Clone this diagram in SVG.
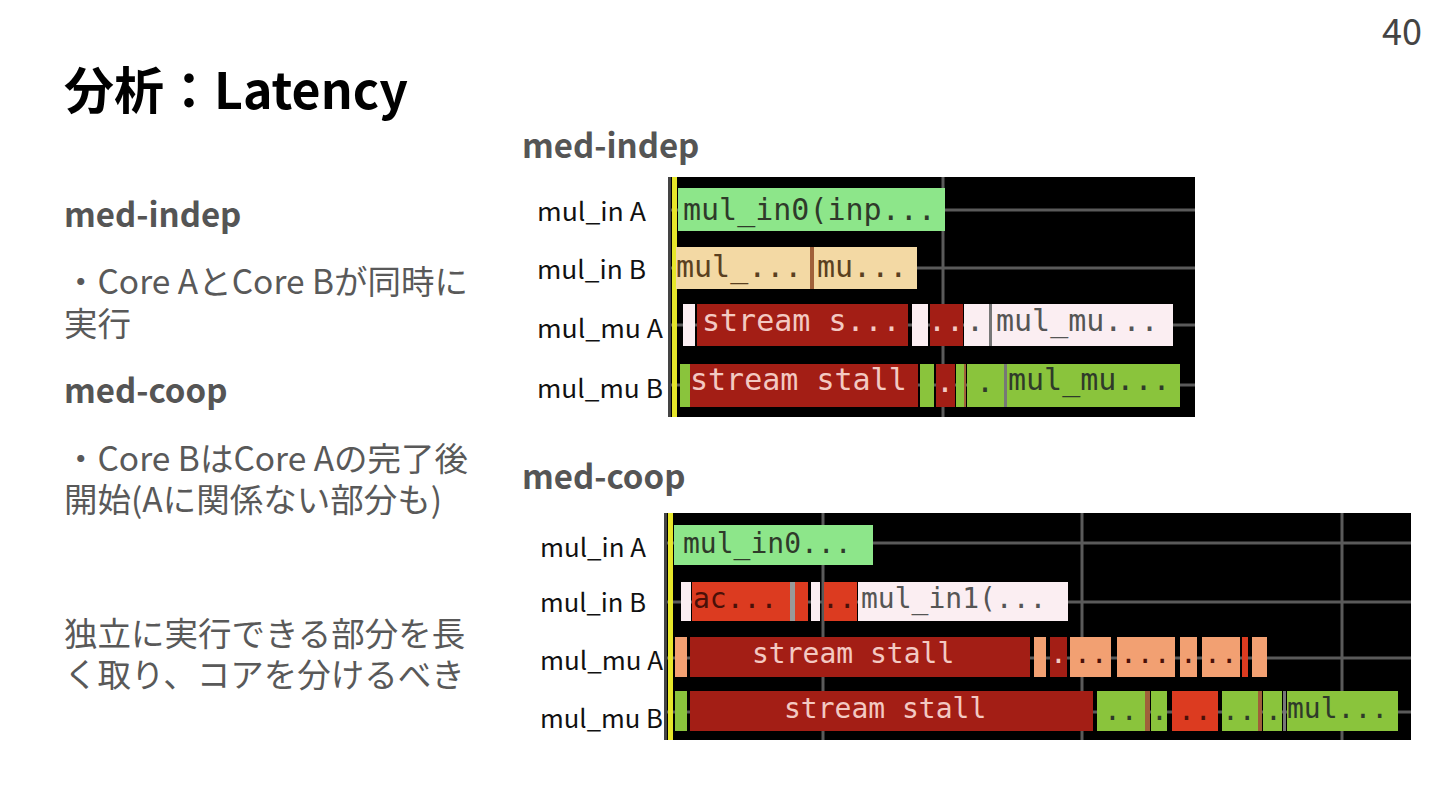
<svg xmlns="http://www.w3.org/2000/svg" width="1440" height="810" viewBox="0 0 1440 810">
<style>
.t{font-family:"Noto Sans CJK JP","Noto Sans",sans-serif}
.title{font-size:50px;font-weight:700;fill:#000}
.h{font-size:33px;font-weight:700;fill:#555}
.b{font-size:33.5px;fill:#595959}
.lab{font-family:"Noto Sans CJK JP","Noto Sans",sans-serif;font-size:25px;fill:#111}
.m{font-family:"DejaVu Sans Mono","Liberation Mono",monospace;font-size:30px}
.m2{font-family:"DejaVu Sans Mono","Liberation Mono",monospace;font-size:28px}
.grid{stroke:#5a5a5a;stroke-width:3}
.g1{fill:#8de68a}.tan{fill:#f3d9a4}.dr{fill:#a31e15}.wh{fill:#fbeef2}.yg{fill:#8ac43c}.sa{fill:#f2a072}.ro{fill:#dc3b20}
.dk{fill:#2f3a2a}.lt{fill:#f3c9c2}.gy{fill:#555}.br{fill:#5a4020}.rd{fill:#4a1008}
</style>
<rect width="1440" height="810" fill="#fff"/>
<g id="page"><text class="t" x="1422" y="45" font-size="36" fill="#444" text-anchor="end">40</text></g>
<g id="title"><text class="t title" x="64" y="109">分析：Latency</text></g>
<g id="left-text">
<text class="t h" x="64" y="227">med-indep</text>
<text class="t b" x="64" y="294">・Core AとCore Bが同時に</text>
<text class="t b" x="64" y="336">実行</text>
<text class="t h" x="64" y="403">med-coop</text>
<text class="t b" x="64" y="471">・Core BはCore Aの完了後</text>
<text class="t b" x="64" y="512">開始(Aに関係ない部分も)</text>
<text class="t b" x="64" y="646">独立に実行できる部分を長</text>
<text class="t b" x="64" y="687">く取り、コアを分けるべき</text>
</g>
<g id="chart-indep">
<text class="t h" x="522" y="158">med-indep</text>
<text class="lab" x="537" y="221" textLength="109" lengthAdjust="spacingAndGlyphs">mul_in A</text>
<text class="lab" x="537" y="279" textLength="109" lengthAdjust="spacingAndGlyphs">mul_in B</text>
<text class="lab" x="537" y="338" textLength="126" lengthAdjust="spacingAndGlyphs">mul_mu A</text>
<text class="lab" x="537" y="398" textLength="126" lengthAdjust="spacingAndGlyphs">mul_mu B</text>
<rect x="668" y="177" width="527" height="240" fill="#000"/>
<line class="grid" x1="668" y1="210" x2="1195" y2="210"/>
<line class="grid" x1="668" y1="268" x2="1195" y2="268"/>
<line class="grid" x1="668" y1="325" x2="1195" y2="325"/>
<line class="grid" x1="668" y1="385" x2="1195" y2="385"/>
<line class="grid" x1="943" y1="177" x2="943" y2="417"/>
<rect x="668" y="177" width="3" height="240" fill="#444"/>
<rect x="672" y="177" width="5" height="240" fill="#e6e62a"/>
<rect class="g1" x="678" y="188" width="267" height="43"/>
<text class="m dk" x="683" y="220">mul_in0(inp...</text>
<rect class="tan" x="676" y="247" width="241" height="42"/>
<rect x="810" y="247" width="4" height="42" fill="#a0603a"/>
<text class="m br" x="676" y="277">mul_...</text>
<text class="m br" x="817" y="277">mu...</text>
<rect class="wh" x="683" y="304" width="12" height="42"/>
<rect class="dr" x="697" y="304" width="211" height="42"/>
<text class="m lt" x="702" y="331">stream s...</text>
<rect class="wh" x="912" y="304" width="16" height="42"/>
<rect class="dr" x="930" y="304" width="33" height="42"/>
<text class="m lt" x="928" y="331">..</text>
<rect class="wh" x="964" y="304" width="25" height="42"/>
<text class="m gy" x="966" y="331">.</text>
<rect x="989" y="304" width="3" height="42" fill="#777"/>
<rect class="wh" x="992" y="304" width="181" height="42"/>
<text class="m gy" x="996" y="331">mul_mu...</text>
<rect class="yg" x="680" y="364" width="10" height="43"/>
<rect class="dr" x="690" y="364" width="228" height="43"/>
<text class="m lt" x="690" y="390">stream stall</text>
<rect class="yg" x="920" y="364" width="14" height="43"/>
<rect class="dr" x="936" y="364" width="19" height="43"/>
<text class="m lt" x="936" y="392">.</text>
<rect class="yg" x="956" y="364" width="8" height="43"/>
<rect x="964" y="364" width="2" height="43" fill="#a0603a"/>
<rect class="yg" x="967" y="364" width="37" height="43"/>
<text class="m dk" x="976" y="392">.</text>
<rect x="1004" y="364" width="3" height="43" fill="#777"/>
<rect class="yg" x="1007" y="364" width="173" height="43"/>
<text class="m dk" x="1008" y="390">mul_mu...</text>
</g>
<g id="chart-coop">
<text class="t h" x="522" y="489">med-coop</text>
<text class="lab" x="540" y="557" textLength="106" lengthAdjust="spacingAndGlyphs">mul_in A</text>
<text class="lab" x="540" y="612" textLength="106" lengthAdjust="spacingAndGlyphs">mul_in B</text>
<text class="lab" x="540" y="670" textLength="123" lengthAdjust="spacingAndGlyphs">mul_mu A</text>
<text class="lab" x="540" y="728" textLength="123" lengthAdjust="spacingAndGlyphs">mul_mu B</text>
<rect x="664" y="513" width="747" height="227" fill="#000"/>
<line class="grid" x1="664" y1="543" x2="1411" y2="543"/>
<line class="grid" x1="664" y1="602" x2="1411" y2="602"/>
<line class="grid" x1="664" y1="658" x2="1411" y2="658"/>
<line class="grid" x1="664" y1="712" x2="1411" y2="712"/>
<line class="grid" x1="823" y1="513" x2="823" y2="740"/>
<line class="grid" x1="1082" y1="513" x2="1082" y2="740"/>
<line class="grid" x1="1342" y1="513" x2="1342" y2="740"/>
<rect x="664" y="513" width="3" height="227" fill="#444"/>
<rect x="668" y="513" width="5" height="227" fill="#e6e62a"/>
<rect class="g1" x="674" y="525" width="199" height="40"/>
<text class="m2 dk" x="683" y="553">mul_in0...</text>
<rect class="wh" x="681" y="582" width="10" height="39"/>
<rect class="ro" x="692" y="582" width="98" height="39"/>
<text class="m2 rd" x="693" y="608">ac...</text>
<rect x="790" y="582" width="5" height="39" fill="#999"/>
<rect class="ro" x="795" y="582" width="13" height="39"/>
<rect class="wh" x="811" y="582" width="9" height="39"/>
<rect class="ro" x="824" y="582" width="33" height="39"/>
<text class="m2 rd" x="822" y="608">..</text>
<rect class="wh" x="858" y="582" width="210" height="39"/>
<text class="m2 gy" x="861" y="608">mul_in1(...</text>
<rect class="sa" x="675" y="637" width="12" height="40"/>
<rect class="dr" x="690" y="637" width="340" height="40"/>
<text class="m2 lt" x="752" y="663">stream stall</text>
<rect class="sa" x="1034" y="637" width="12" height="40"/>
<rect class="dr" x="1050" y="637" width="17" height="40"/>
<text class="m2 lt" x="1050" y="663">.</text>
<rect class="sa" x="1070" y="637" width="41" height="40"/>
<text class="m2 rd" x="1074" y="663">..</text>
<rect class="sa" x="1117" y="637" width="58" height="40"/>
<text class="m2 rd" x="1120" y="663">...</text>
<rect class="sa" x="1180" y="637" width="17" height="40"/>
<text class="m2 rd" x="1180" y="663">.</text>
<rect class="sa" x="1202" y="637" width="38" height="40"/>
<text class="m2 rd" x="1204" y="663">..</text>
<rect class="ro" x="1242" y="637" width="6" height="40"/>
<rect class="sa" x="1252" y="637" width="15" height="40"/>
<rect class="yg" x="675" y="691" width="12" height="40"/>
<rect class="dr" x="690" y="691" width="403" height="40"/>
<text class="m2 lt" x="784" y="718">stream stall</text>
<rect class="yg" x="1097" y="691" width="48" height="40"/>
<text class="m2 dk" x="1104" y="720">..</text>
<rect x="1145" y="691" width="5" height="40" fill="#a0603a"/>
<rect class="yg" x="1151" y="691" width="16" height="40"/>
<text class="m2 dk" x="1151" y="720">.</text>
<rect class="ro" x="1172" y="691" width="46" height="40"/>
<text class="m2 rd" x="1178" y="720">..</text>
<rect class="yg" x="1222" y="691" width="36" height="40"/>
<text class="m2 dk" x="1222" y="720">..</text>
<rect x="1258" y="691" width="4" height="40" fill="#a0603a"/>
<rect class="yg" x="1263" y="691" width="19" height="40"/>
<text class="m2 dk" x="1265" y="720">.</text>
<rect x="1283" y="691" width="3" height="40" fill="#777"/>
<rect class="yg" x="1287" y="691" width="111" height="40"/>
<text class="m2 dk" x="1287" y="718">mul...</text>
</g>
</svg>
